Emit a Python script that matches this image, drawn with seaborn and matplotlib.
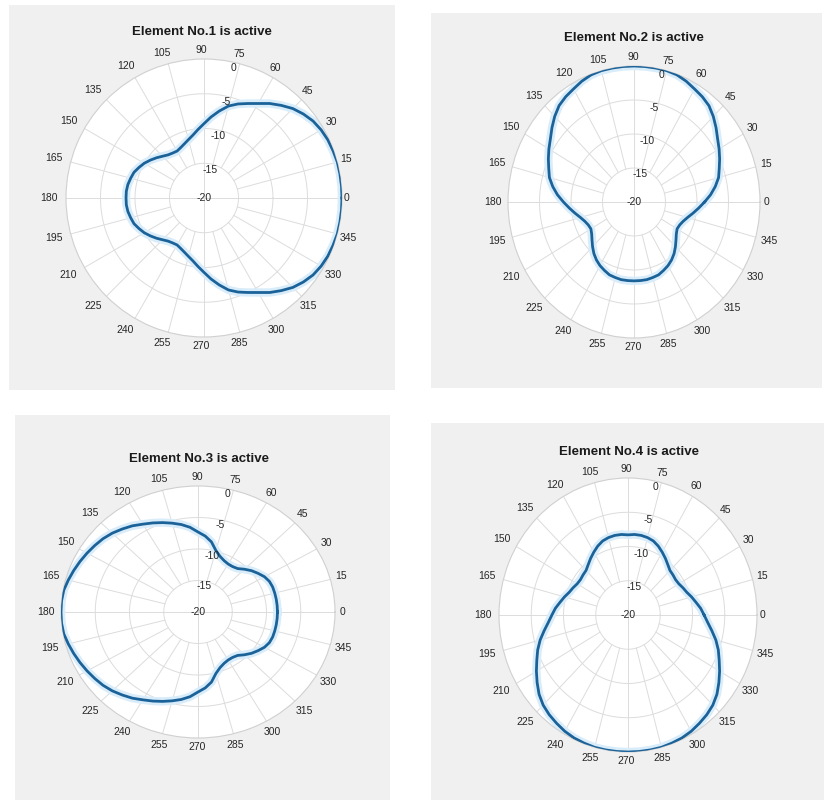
import numpy as np
import pandas as pd
import matplotlib
matplotlib.use("Agg")
import matplotlib.pyplot as plt
from matplotlib.patches import Rectangle
import seaborn as sns

# Azimuth grid of the measured patterns (degrees)
angles_deg = list(range(0, 360, 5))

# Normalised gain (dB) of the array with one element active at a time
gain_el1 = [0.0, 0.0, 0.0, 0.0, -0.1, -0.2, -0.4, -0.7, -1.2, -1.8,
            -2.6, -3.4, -4.3, -5.0, -5.6, -6.3, -7.3, -8.3, -9.3, -10.1,
            -10.8, -11.3, -11.7, -12.0, -12.2, -12.1, -11.9, -11.5, -11.0, -10.5,
            -10.0, -9.6, -9.2, -9.0, -8.8, -8.7, -8.7, -8.7, -8.8, -9.0,
            -9.2, -9.6, -10.0, -10.5, -11.0, -11.5, -11.9, -12.1, -12.2, -12.0,
            -11.7, -11.3, -10.8, -10.1, -9.3, -8.3, -7.3, -6.3, -5.6, -5.0,
            -4.3, -3.4, -2.6, -1.8, -1.2, -0.7, -0.4, -0.2, -0.1, 0.0,
            0.0, 0.0]

gain_el2 = [-8.8, -7.8, -6.9, -6.1, -5.6, -5.0, -4.4, -3.8, -3.0, -2.2,
            -1.5, -1.1, -0.8, -0.4, -0.1, 0.0, 0.0, 0.0, 0.0, 0.0,
            0.0, 0.0, -0.1, -0.4, -0.8, -1.1, -1.5, -2.2, -3.0, -3.8,
            -4.4, -5.0, -5.6, -6.1, -6.9, -7.8, -8.8, -9.7, -10.5, -11.2,
            -11.7, -12.0, -12.1, -11.8, -11.3, -10.7, -10.1, -9.6, -9.2, -8.9,
            -8.6, -8.5, -8.4, -8.4, -8.4, -8.4, -8.4, -8.5, -8.6, -8.9,
            -9.2, -9.6, -10.1, -10.7, -11.3, -11.8, -12.1, -12.0, -11.7, -11.2,
            -10.5, -9.7]

gain_el3 = [-8.4, -8.4, -8.4, -8.4, -8.4, -8.5, -8.8, -9.3, -9.8, -10.4,
            -11.0, -11.2, -11.2, -11.0, -10.6, -9.9, -8.7, -7.9, -7.3, -6.5,
            -5.9, -5.4, -4.9, -4.4, -3.9, -3.3, -2.8, -2.3, -1.9, -1.6,
            -1.3, -1.0, -0.7, -0.4, -0.1, 0.0, 0.0, 0.0, -0.1, -0.4,
            -0.7, -1.0, -1.3, -1.6, -1.9, -2.3, -2.8, -3.3, -3.9, -4.4,
            -4.9, -5.4, -5.9, -6.5, -7.3, -7.9, -8.7, -9.9, -10.6, -11.0,
            -11.2, -11.2, -11.0, -10.4, -9.8, -9.3, -8.8, -8.5, -8.4, -8.4,
            -8.4, -8.4]

gain_el4 = [-8.2, -8.7, -9.3, -9.8, -10.3, -10.6, -10.9, -11.0, -10.9, -10.8,
            -10.4, -9.9, -9.4, -8.9, -8.5, -8.3, -8.2, -8.2, -8.3, -8.2,
            -8.2, -8.3, -8.5, -8.9, -9.4, -9.9, -10.4, -10.8, -10.9, -11.0,
            -10.9, -10.6, -10.3, -9.8, -9.3, -8.7, -8.2, -7.6, -6.8, -5.9,
            -5.1, -4.4, -3.6, -2.8, -2.0, -1.4, -1.0, -0.7, -0.4, -0.2,
            -0.1, 0.0, 0.0, 0.0, 0.0, 0.0, 0.0, 0.0, -0.1, -0.2,
            -0.4, -0.7, -1.0, -1.4, -2.0, -2.8, -3.6, -4.4, -5.1, -5.9,
            -6.8, -7.6]

titles = ["Element No.1 is active", "Element No.2 is active",
          "Element No.3 is active", "Element No.4 is active"]
gains = [gain_el1, gain_el2, gain_el3, gain_el4]

theta_ticks = list(range(0, 360, 15))
theta_labels = [str(a) for a in theta_ticks]
r_ticks = [-20, -15, -10, -5, 0]
r_labels = [str(r) for r in r_ticks]

# ---- figure geometry (pixels, origin top-left) ----
W, H = 824, 800
layouts = [
    dict(box=(9, 5, 395, 390), c=(204, 198), rh=138, rv=139, t=(202, 32), ldx=-3),
    dict(box=(431, 13, 822, 388), c=(634, 202), rh=126, rv=136, t=(634, 38), ldx=-1),
    dict(box=(15, 415, 390, 800), c=(198, 612), rh=137, rv=126, t=(199, 459), ldx=-1),
    dict(box=(431, 423, 824, 800), c=(628, 615), rh=129, rv=137, t=(629, 452), ldx=-2),
]

plt.rcParams['font.family'] = ['Liberation Sans', 'DejaVu Sans']
TXT = '#262626'
GRID = '#dcdcdc'
LINE = '#1b6299'
HALO = '#d9ecfa'

fig = plt.figure(figsize=(W / 100, H / 100), dpi=100)
fig.patch.set_facecolor('white')


def fx(x):
    return x / W


def fy(y):
    return 1 - y / H


for lay, gain, title in zip(layouts, gains, titles):
    x0, y0, x1, y1 = lay['box']
    fig.add_artist(Rectangle((fx(x0), fy(y1)), (x1 - x0) / W, (y1 - y0) / H,
                             transform=fig.transFigure, facecolor='#f0f0f0',
                             edgecolor='none', zorder=0))
    cx, cy = lay['c']
    rh, rv = lay['rh'], lay['rv']
    ax = fig.add_axes([fx(cx - rh), fy(cy + rv), 2 * rh / W, 2 * rv / H],
                      projection='polar')
    ax.set_aspect('auto')
    ax.set_facecolor('white')
    ax.grid(False)
    ax.set_xticks([])
    ax.set_yticks([])
    ax.spines['polar'].set_color('#d0d0d0')
    ax.spines['polar'].set_linewidth(0.8)

    # circular grid
    ring = np.linspace(0, 2 * np.pi, 361)
    for r in r_ticks[1:-1]:
        ax.plot(ring, np.full_like(ring, r), color=GRID, lw=0.7, zorder=1)
    # angular grid
    for a in theta_ticks:
        start = r_ticks[0] if a % 90 == 0 else r_ticks[1]
        ax.plot([np.deg2rad(a)] * 2, [start, r_ticks[-1]], color=GRID, lw=0.7, zorder=1)

    # pattern
    df = pd.DataFrame({'theta': np.deg2rad(angles_deg + [360]),
                       'gain': gain + [gain[0]]})
    sns.lineplot(data=df, x='theta', y='gain', ax=ax, sort=False,
                 color=HALO, lw=6, zorder=2)
    sns.lineplot(data=df, x='theta', y='gain', ax=ax, sort=False,
                 color=LINE, lw=2.0, zorder=3)
    ax.set_xlabel('')
    ax.set_ylabel('')
    ax.set_ylim(r_ticks[0], r_ticks[-1])

    # radial tick labels
    for r, s in zip(r_ticks, r_labels):
        if r == r_ticks[0]:
            ax.text(0, r, s, ha='center', va='center', fontsize=7.5, color=TXT, zorder=5)
        else:
            ax.text(np.deg2rad(77), r - 0.8, s, ha='center', va='center',
                    fontsize=7.5, color=TXT, zorder=5)

    # angular tick labels just outside the rim
    lcx = cx + lay['ldx']
    gap = 5
    for a, s in zip(theta_ticks, theta_labels):
        ang = np.deg2rad(a)
        w = 6.0 * len(s)
        ext = abs(np.cos(ang)) * w / 2 + abs(np.sin(ang)) * 4
        px = lcx + (rh + gap + ext) * np.cos(ang)
        py = cy - (rv + gap + ext) * np.sin(ang)
        fig.text(fx(px), fy(py), s, ha='center', va='center', fontsize=7.5, color=TXT)

    tx, ty = lay['t']
    fig.text(fx(tx), fy(ty), title, ha='center', va='center', fontsize=9.5,
             fontweight='bold', color='#1a1a1a')

fig.savefig('out.png', dpi=100, facecolor='white')
